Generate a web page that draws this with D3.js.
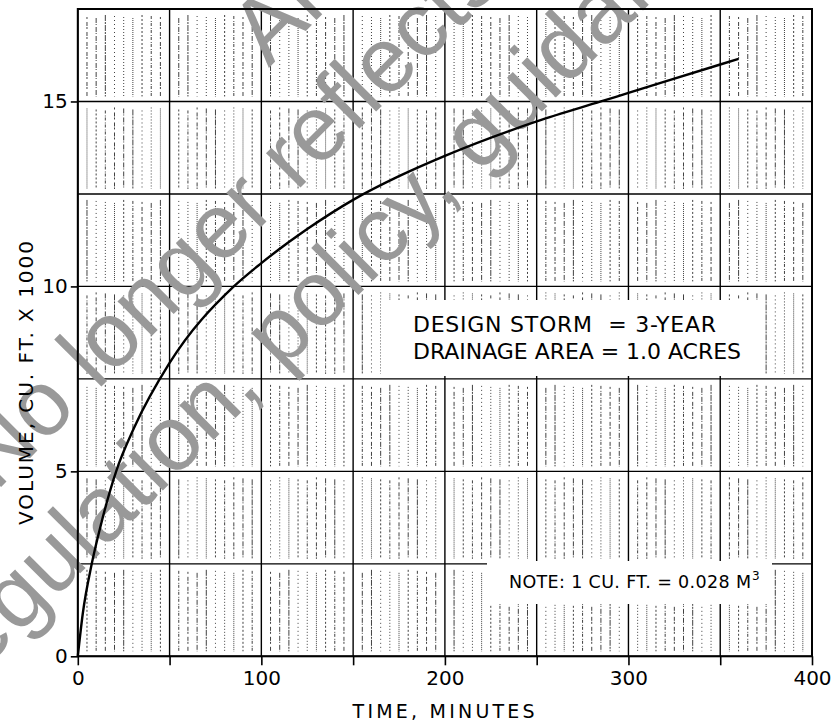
<!DOCTYPE html>
<html>
<head>
<meta charset="utf-8">
<script src="https://cdn.jsdelivr.net/npm/d3@7"></script>
<style>
  body { margin: 0; background: #fff; }
  svg { display: block; }
</style>
</head>
<body>
<div id="chart"></div>
<script>
// values: time (minutes) vs volume (cu. ft. x 1000)
const timeMin = [0, 2.7, 7.6, 12.7, 20.9, 30.8, 50, 85, 100, 125, 150, 175, 200, 250, 285, 300, 350, 360];
const volume  = [0, 1.15, 2.5, 3.58, 5.0, 6.19, 7.93, 10.0, 10.63, 11.55, 12.34, 12.98, 13.53, 14.46, 15.0, 15.23, 16.0, 16.15];

const xTicks = [0, 50, 100, 150, 200, 250, 300, 350, 400];
const xTickLabels = [0, 100, 200, 300, 400];
const yTickLabels = [0, 5, 10, 15];
const yGrid = [0, 2.5, 5, 7.5, 10, 12.5, 15, 17.5];

const noteLines = ["DESIGN STORM  = 3-YEAR", "DRAINAGE AREA = 1.0 ACRES"];
const watermark = ["Archived", "No longer reflects current", "regulation, policy, guidance"];

const W = 837, H = 727;
const FONT = "DejaVu Sans, sans-serif";

const svg = d3.select("#chart").append("svg").attr("width", W).attr("height", H);

const x = d3.scaleLinear().domain([0, 400]).range([77.8, 812]);
const y = d3.scaleLinear().domain([0, 17.5]).range([656.3, 9]);

// graph paper texture: broken vertical lines every 5 minutes
const dashes = ["2,2", "5,1,1,2", "1,2", "3,2,1,1", "6,1,2,1", "1,1", "2,3,4,1", "1,3"];
const minor = d3.range(5, 400, 5).filter(d => d % 50 !== 0);
const bands = d3.pairs(yGrid);
const tex = svg.append("g").attr("stroke", "#222").attr("stroke-width", 1);
minor.forEach((m, i) => {
  bands.forEach((b, j) => {
    tex.append("line")
      .attr("x1", x(m)).attr("x2", x(m))
      .attr("y1", y(b[1]) + 6 + (i + j) % 4).attr("y2", y(b[0]) - 5)
      .attr("stroke-dasharray", dashes[(i * 3 + j) % dashes.length])
      .attr("opacity", 0.85);
  });
});

// major grid
const grid = svg.append("g").attr("stroke", "#000").attr("stroke-width", 1.4);
grid.selectAll(".gx").data(xTicks).enter().append("line")
  .attr("x1", d => x(d)).attr("x2", d => x(d))
  .attr("y1", y(17.5)).attr("y2", y(0));
grid.selectAll(".gy").data(yGrid).enter().append("line")
  .attr("x1", x(0)).attr("x2", x(400))
  .attr("y1", d => y(d)).attr("y2", d => y(d));

// blank boxes behind the notes
svg.append("rect").attr("x", 381).attr("y", 300).attr("width", 380).attr("height", 76).attr("fill", "#fff");
svg.append("rect").attr("x", 487).attr("y", 561).attr("width", 285).attr("height", 43).attr("fill", "#fff");

// watermark
const wm = svg.append("g").attr("transform", "rotate(-45)")
  .attr("fill", "#999")
  .style("font-family", "Liberation Sans, Arial, sans-serif")
  .style("font-size", "92px");
const wmPos = [[142, 238], [-351, 345], [-519, 462]];
watermark.forEach((t, i) => {
  wm.append("text").attr("x", wmPos[i][0]).attr("y", wmPos[i][1]).text(t);
});

// curve
const line = d3.line()
  .x((d, i) => x(timeMin[i]))
  .y((d, i) => y(volume[i]))
  .curve(d3.curveMonotoneX);
svg.append("path")
  .attr("d", line(timeMin))
  .attr("fill", "none")
  .attr("stroke", "#000")
  .attr("stroke-width", 2.4);

// axes
const xAxis = svg.append("g")
  .attr("transform", `translate(0,${y(0)})`)
  .call(d3.axisBottom(x).tickValues(xTicks)
    .tickFormat(d => xTickLabels.includes(d) ? d : "")
    .tickSize(9).tickPadding(6));
const yAxis = svg.append("g")
  .attr("transform", `translate(${x(0)},0)`)
  .call(d3.axisLeft(y).tickValues(yTickLabels).tickSize(7).tickPadding(3));
[xAxis, yAxis].forEach(a => {
  a.select(".domain").remove();
  a.selectAll("line").attr("stroke", "#000").attr("stroke-width", 1.6);
  a.selectAll("text").attr("fill", "#000").style("font-family", FONT).style("font-size", "20px");
});

// frame
svg.append("rect")
  .attr("x", x(0)).attr("y", y(17.5))
  .attr("width", x(400) - x(0)).attr("height", y(0) - y(17.5))
  .attr("fill", "none").attr("stroke", "#000").attr("stroke-width", 2);

// notes
const nt = svg.append("g").style("font-family", FONT).attr("fill", "#000");
nt.append("text").attr("x", 413).attr("y", 332).style("font-size", "22px")
  .attr("textLength", 303).attr("lengthAdjust", "spacing").attr("xml:space", "preserve").text(noteLines[0]);
nt.append("text").attr("x", 413).attr("y", 358.5).style("font-size", "22px")
  .attr("textLength", 328).attr("lengthAdjust", "spacing").text(noteLines[1]);
nt.append("text").attr("x", 509).attr("y", 588).style("font-size", "17.5px")
  .attr("textLength", 242).attr("lengthAdjust", "spacing").text("NOTE: 1 CU. FT. = 0.028 M");
nt.append("text").attr("x", 752).attr("y", 580).style("font-size", "12px").text("3");

// axis titles
svg.append("text").attr("x", 352.6).attr("y", 718)
  .style("font-family", FONT).style("font-size", "19px")
  .attr("textLength", 182).attr("lengthAdjust", "spacing")
  .text("TIME, MINUTES");
svg.append("text")
  .attr("transform", "translate(33,383) rotate(-90)")
  .attr("text-anchor", "middle")
  .style("font-family", FONT).style("font-size", "20px")
  .attr("textLength", 284).attr("lengthAdjust", "spacing")
  .text("VOLUME, CU. FT. X 1000");
</script>
</body>
</html>
